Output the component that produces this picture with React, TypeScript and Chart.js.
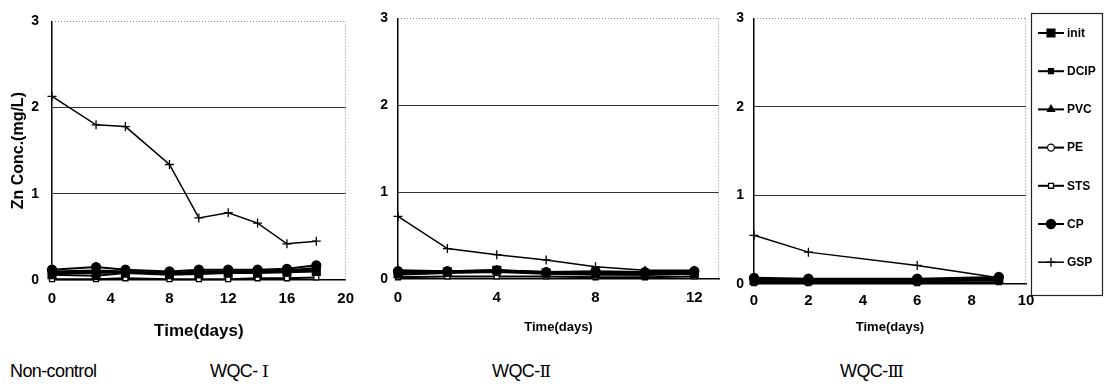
import React, { useEffect, useRef } from 'react';
import { Chart, registerables } from 'chart.js';
import { drawPoint } from 'chart.js/helpers';

Chart.register(...registerables);

// ---------- data ----------
const seriesNames = ['init', 'DCIP', 'PVC', 'PE', 'STS', 'CP', 'GSP'];

// Panel 1 (Non-control / WQC-I)
const days1 = [0, 3, 5, 8, 10, 12, 14, 16, 18];
const init1 = [0.06, 0.05, 0.08, 0.06, 0.07, 0.08, 0.08, 0.09, 0.1];
const dcip1 = [0.08, 0.08, 0.09, 0.07, 0.08, 0.09, 0.09, 0.1, 0.12];
const pvc1 = [0.1, 0.11, 0.1, 0.08, 0.1, 0.1, 0.1, 0.11, 0.14];
const pe1 = [0.09, 0.1, 0.09, 0.08, 0.09, 0.1, 0.1, 0.11, 0.13];
const sts1 = [0.01, 0.01, 0.02, 0.01, 0.01, 0.01, 0.02, 0.02, 0.03];
const cp1 = [0.12, 0.15, 0.12, 0.1, 0.12, 0.12, 0.12, 0.13, 0.17];
const gsp1 = [2.13, 1.8, 1.78, 1.34, 0.72, 0.78, 0.66, 0.42, 0.45];

// Panel 2 (WQC-II)
const days2 = [0, 2, 4, 6, 8, 10, 12];
const init2 = [0.06, 0.08, 0.1, 0.07, 0.06, 0.05, 0.06];
const dcip2 = [0.08, 0.08, 0.09, 0.07, 0.07, 0.06, 0.07];
const pvc2 = [0.1, 0.09, 0.1, 0.08, 0.08, 0.07, 0.08];
const pe2 = [0.05, 0.07, 0.08, 0.06, 0.05, 0.05, 0.06];
const sts2 = [0.02, 0.03, 0.03, 0.03, 0.02, 0.02, 0.03];
const cp2 = [0.09, 0.09, 0.1, 0.08, 0.09, 0.08, 0.09];
const gsp2 = [0.72, 0.35, 0.28, 0.22, 0.14, 0.1, 0.1];

// Panel 3 (WQC-III)
const days3 = [0, 2, 6, 9];
const init3 = [0.04, 0.04, 0.04, 0.05];
const dcip3 = [0.05, 0.05, 0.05, 0.06];
const pvc3 = [0.06, 0.05, 0.05, 0.07];
const pe3 = [0.03, 0.03, 0.03, 0.04];
const sts3 = [0.01, 0.01, 0.01, 0.02];
const cp3 = [0.07, 0.06, 0.06, 0.08];
const gsp3 = [0.55, 0.36, 0.21, 0.07];

const yTicks = [0, 1, 2, 3];
const xTicks1 = [0, 4, 8, 12, 16, 20];
const xTicks2 = [0, 4, 8, 12];
const xTicks3 = [0, 2, 4, 6, 8, 10];

const yTitle = 'Zn Conc.(mg/L)';
const xTitle = 'Time(days)';
const captionPrefixes = ['Non-control', 'WQC- ', 'WQC-', 'WQC-'];
const captionNumerals = ['', 'Ⅰ', 'Ⅱ', 'Ⅲ'];

// ---------- styles ----------
const FONT = "'Liberation Sans', Arial, Helvetica, sans-serif";
const styles: Record<string, any> = {
  init: { pointStyle: 'rect', radius: 5.5, fill: '#000', width: 2 },
  DCIP: { pointStyle: 'rect', radius: 3.5, fill: '#000', width: 2 },
  PVC: { pointStyle: 'triangle', radius: 4, fill: '#000', width: 2 },
  PE: { pointStyle: 'circle', radius: 3.5, fill: '#fff', width: 2 },
  STS: { pointStyle: 'rect', radius: 3.5, fill: '#fff', width: 2 },
  CP: { pointStyle: 'circle', radius: 4.5, fill: '#000', width: 2 },
  GSP: { pointStyle: 'cross', radius: 4.5, fill: '#000', width: 1.5 },
};

function buildDatasets(days: number[], series: number[][]) {
  return seriesNames.map((name, i) => {
    const st = styles[name];
    return {
      label: name,
      data: days.map((d, j) => ({ x: d, y: series[i][j] })),
      borderColor: '#000',
      backgroundColor: st.fill,
      pointBackgroundColor: st.fill,
      pointBorderColor: '#000',
      pointStyle: st.pointStyle,
      pointRadius: st.radius,
      pointBorderWidth: 1.3,
      borderWidth: st.width,
      tension: 0,
      clip: false as any,
    };
  });
}

const framePlugin = {
  id: 'frame',
  beforeDatasetsDraw(chart: any) {
    const { ctx, chartArea } = chart;
    const { left, right, top, bottom } = chartArea;
    ctx.save();
    ctx.strokeStyle = '#8a8a8a';
    ctx.lineWidth = 1;
    ctx.setLineDash([1, 2]);
    ctx.beginPath();
    ctx.moveTo(left, Math.round(top) + 0.5);
    ctx.lineTo(right, Math.round(top) + 0.5);
    ctx.moveTo(Math.round(right) - 0.5, top);
    ctx.lineTo(Math.round(right) - 0.5, bottom);
    ctx.stroke();
    ctx.restore();
  },
};

const legendPlugin = {
  id: 'customLegend',
  afterDraw(chart: any) {
    const opts = chart.options.plugins.customLegend;
    if (!opts || !opts.show) return;
    const { ctx } = chart;
    const { boxLeft, boxRight, boxTop, boxBottom, firstY, gap } = opts;
    ctx.save();
    ctx.setLineDash([]);
    ctx.strokeStyle = '#222';
    ctx.lineWidth = 1.2;
    ctx.strokeRect(boxLeft + 0.5, boxTop + 0.5, boxRight - boxLeft, boxBottom - boxTop);
    chart.data.datasets.forEach((ds: any, i: number) => {
      const y = firstY + i * gap;
      const x0 = boxLeft + 7;
      const x1 = boxLeft + 33;
      ctx.strokeStyle = '#000';
      ctx.lineWidth = ds.borderWidth;
      ctx.beginPath();
      ctx.moveTo(x0, y);
      ctx.lineTo(x1, y);
      ctx.stroke();
      ctx.fillStyle = ds.pointBackgroundColor;
      ctx.strokeStyle = '#000';
      ctx.lineWidth = 1.3;
      drawPoint(ctx, { pointStyle: ds.pointStyle, rotation: 0, radius: ds.pointRadius, borderWidth: 1.3 }, (x0 + x1) / 2, y);
      ctx.fillStyle = '#000';
      ctx.font = `bold 12px ${FONT}`;
      ctx.textBaseline = 'middle';
      ctx.textAlign = 'left';
      ctx.fillText(ds.label, x1 + 3, y + 0.5);
    });
    ctx.restore();
  },
};

type PanelCfg = {
  left: number;
  width: number;
  height: number;
  padTop: number;
  padRight: number;
  yWidth: number;
  xHeight: number;
  xMax: number;
  xTicks: number[];
  xTickPad: number;
  xTickSize: number;
  xTitleSize: number;
  xTitlePad: number;
  yTickPad: number;
  showYTitle: boolean;
  days: number[];
  series: number[][];
  legend: boolean;
};

function Panel({ cfg }: { cfg: PanelCfg }) {
  const ref = useRef<HTMLCanvasElement>(null);
  useEffect(() => {
    if (!ref.current) return;
    const chart = new Chart(ref.current, {
      type: 'line',
      data: { datasets: buildDatasets(cfg.days, cfg.series) as any },
      options: {
        responsive: false,
        animation: false,
        devicePixelRatio: 1,
        layout: { padding: { top: cfg.padTop, right: cfg.padRight, bottom: 0, left: 0 } },
        plugins: {
          legend: { display: false },
          tooltip: { enabled: false },
          customLegend: {
            show: cfg.legend,
            boxLeft: 303,
            boxRight: 374,
            boxTop: 13,
            boxBottom: 295,
            firstY: 33,
            gap: 38.2,
          },
        } as any,
        scales: {
          x: {
            type: 'linear',
            min: 0,
            max: cfg.xMax,
            afterBuildTicks: (s: any) => {
              s.ticks = cfg.xTicks.map((v) => ({ value: v }));
            },
            afterFit: (s: any) => {
              s.height = cfg.xHeight;
            },
            ticks: {
              color: '#000',
              padding: cfg.xTickPad,
              font: { family: FONT, size: cfg.xTickSize, weight: 'bold' },
              maxRotation: 0,
            },
            grid: { drawOnChartArea: false, drawTicks: false },
            border: { color: '#000', width: 1.5 },
            title: {
              display: true,
              text: xTitle,
              color: '#000',
              font: { family: FONT, size: cfg.xTitleSize, weight: 'bold' },
              padding: { top: 0, bottom: cfg.xTitlePad },
            },
          },
          y: {
            type: 'linear',
            min: 0,
            max: 3,
            afterBuildTicks: (s: any) => {
              s.ticks = yTicks.map((v) => ({ value: v }));
            },
            afterFit: (s: any) => {
              s.width = cfg.yWidth;
            },
            ticks: {
              color: '#000',
              padding: cfg.yTickPad,
              font: { family: FONT, size: 14, weight: 'bold' },
            },
            grid: {
              drawTicks: false,
              lineWidth: 1,
              color: (c: any) => (c.tick && (c.tick.value === 1 || c.tick.value === 2) ? '#333' : 'rgba(0,0,0,0)'),
            },
            border: { color: '#000', width: 1.5 },
            title: {
              display: cfg.showYTitle,
              text: yTitle,
              color: '#000',
              font: { family: FONT, size: 16, weight: 'bold' },
              padding: { top: 9, bottom: 0 },
            },
          },
        },
      } as any,
      plugins: [framePlugin, legendPlugin],
    });
    return () => chart.destroy();
  }, []);
  return (
    <canvas
      ref={ref}
      width={cfg.width}
      height={cfg.height}
      style={{ position: 'absolute', left: cfg.left, top: 0, width: cfg.width, height: cfg.height, display: 'block' }}
    />
  );
}

const panels: PanelCfg[] = [
  {
    left: 0, width: 364, height: 345, padTop: 15, padRight: 8, yWidth: 52, xHeight: 65,
    xMax: 20, xTicks: xTicks1, xTickPad: 10, xTickSize: 15, xTitleSize: 17, xTitlePad: 3, yTickPad: 13,
    showYTitle: true, days: days1, series: [init1, dcip1, pvc1, pe1, sts1, cp1, gsp1], legend: false,
  },
  {
    left: 365, width: 362, height: 345, padTop: 16, padRight: 8, yWidth: 33, xHeight: 66,
    xMax: 13, xTicks: xTicks2, xTickPad: 10, xTickSize: 15, xTitleSize: 13, xTitlePad: 10, yTickPad: 10,
    showYTitle: false, days: days2, series: [init2, dcip2, pvc2, pe2, sts2, cp2, gsp2], legend: false,
  },
  {
    left: 728, width: 377, height: 345, padTop: 14, padRight: 79, yWidth: 26, xHeight: 61,
    xMax: 10, xTicks: xTicks3, xTickPad: 8, xTickSize: 15, xTitleSize: 13, xTitlePad: 10, yTickPad: 10,
    showYTitle: false, days: days3, series: [init3, dcip3, pvc3, pe3, sts3, cp3, gsp3], legend: true,
  },
];

const captionLefts = [10, 210, 492, 840];

export default function App() {
  return (
    <div style={{ position: 'fixed', left: 0, top: 0, width: 1105, height: 388, background: '#fff', overflow: 'hidden' }}>
      {panels.map((p, i) => (
        <Panel key={i} cfg={p} />
      ))}
      {captionPrefixes.map((c, i) => (
        <div
          key={i}
          style={{
            position: 'absolute',
            left: captionLefts[i],
            top: 361,
            fontFamily: FONT,
            fontSize: 18,
            lineHeight: '20px',
            color: '#000',
            whiteSpace: 'nowrap',
            letterSpacing: '-0.6px',
          }}
        >
          {c}
          {captionNumerals[i] && (
            <span style={{ fontFamily: "'DejaVu Serif', 'Liberation Serif', serif", fontSize: 17, letterSpacing: 0 }}>
              {captionNumerals[i]}
            </span>
          )}
        </div>
      ))}
    </div>
  );
}
